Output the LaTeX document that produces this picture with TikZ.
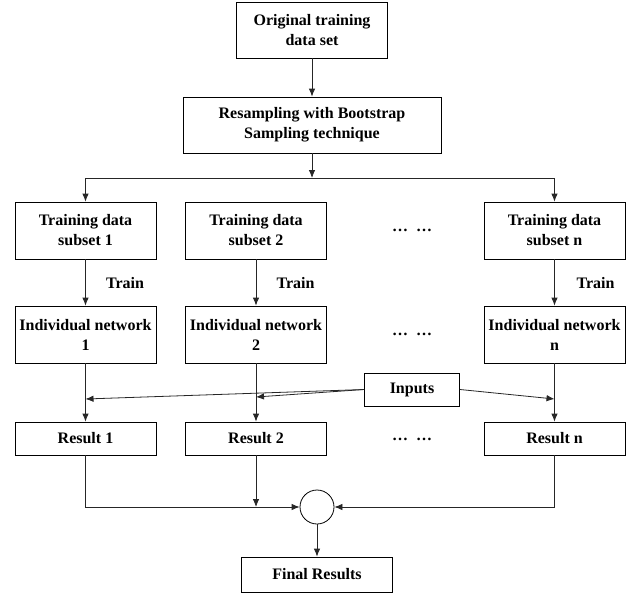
\documentclass[tikz,border=0pt]{standalone}
\usepackage{fontspec}
\setmainfont{Liberation Serif}
\usetikzlibrary{arrows.meta,shapes.geometric}
\begin{document}
\begin{tikzpicture}[x=1pt,y=-1pt,
  box/.style={draw,line width=0.8pt,rectangle,align=center,font=\fontsize{16}{20}\selectfont\bfseries,inner sep=0pt},
  lbl/.style={font=\fontsize{16}{18}\selectfont\bfseries,inner sep=0pt},
  arr/.style={line width=0.8pt,draw=black!85,-{Latex[length=8pt,width=6.5pt]}},
  ln/.style={line width=0.8pt,draw=black!85}]
\useasboundingbox (0,0) rectangle (637,597);
\node[box,minimum width=151pt,minimum height=56pt] (b1) at (312,30) {Original training\\data set};
\node[box,minimum width=258pt,minimum height=56pt] (b2) at (312,125) {Resampling with Bootstrap\\Sampling technique};
\coordinate (sp) at (312,178);
\coordinate (sl) at (85.5,178);
\coordinate (sr) at (554.5,178);
\foreach \n/\x/\t/\dx in {1/85.5/1/39.5,2/256/2/39.5,n/554.5/n/41}{
  \node[box,minimum width=141pt,minimum height=57pt] (s\n) at (\x,230.5) {Training data\\subset \t};
  \node[box,minimum width=141pt,minimum height=57pt] (n\n) at (\x,334.5) {Individual network\\\t};
  \node[box,minimum width=141pt,minimum height=33pt] (r\n) at (\x,438.5) {Result \t};
  \draw[arr] (s\n) -- (n\n);
  \node[lbl] (t\n) at (\x+\dx,283) {Train};
  \draw[arr] (n\n) -- (r\n);
}
\node[lbl] (d1) at (412,230) {…\hspace{8pt}…};
\node[lbl] (d2) at (412,334) {…\hspace{8pt}…};
\node[lbl] (d3) at (412,439) {…\hspace{8pt}…};
\node[box,minimum width=95pt,minimum height=33pt] (in) at (412,389.5) {Inputs};
\coordinate (i1) at (85.5,399);
\coordinate (i2) at (256,397);
\coordinate (i3) at (554.5,399);
\draw[arr] (in.west) -- (i1);
\draw[arr] (in.west) -- (i2);
\draw[arr] (in.east) -- (i3);
\draw[arr] (b1) -- (b2);
\draw[arr] (b2) -- (sp);
\draw[ln] (sl) -- (sr);
\draw[arr] (sl) -- (s1);
\draw[arr] (sr) -- (sn);
\node[draw,line width=0.8pt,ellipse,minimum width=34pt,minimum height=34pt,inner sep=0pt] (c) at (317,507) {};
\node[box,minimum width=151pt,minimum height=35pt] (fin) at (317,574.5) {Final Results};
\coordinate (c1) at (85.5,507);
\coordinate (c2) at (256,507);
\coordinate (cn) at (554.5,507);
\draw[arr] (r1) -- (c1) -- (c.west);
\draw[arr] (r2) -- (c2);
\draw[arr] (rn) -- (cn) -- (c.east);
\draw[arr] (c) -- (fin);
\end{tikzpicture}
\end{document}
